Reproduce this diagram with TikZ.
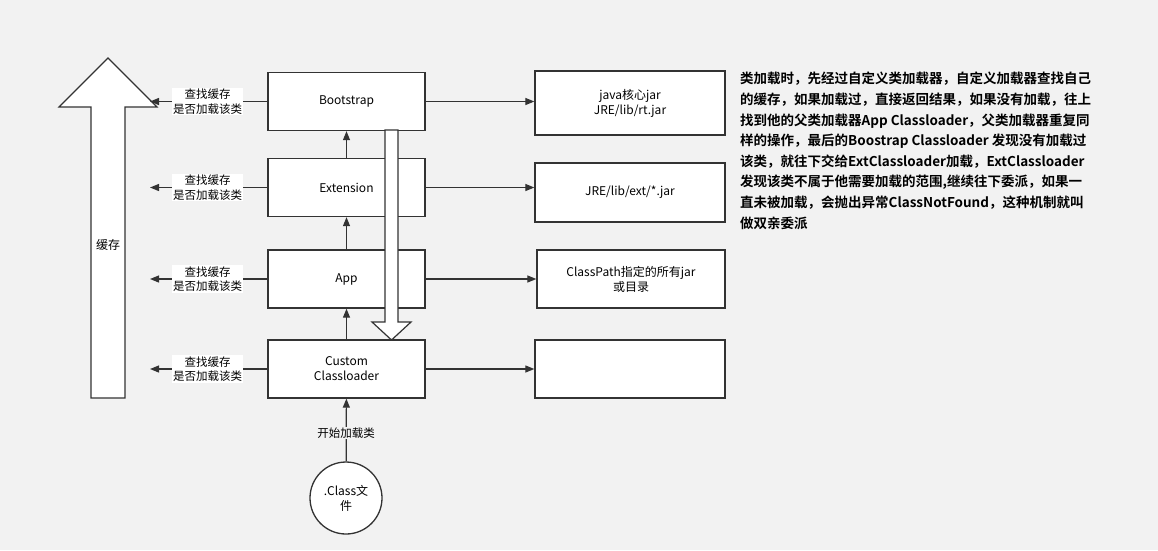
\documentclass[tikz,border=0pt]{standalone}
\usepackage{fontspec}
\setmainfont{Noto Sans CJK SC}
\newfontfamily\cjkb{Noto Sans CJK SC Bold}
\usetikzlibrary{arrows.meta,calc}
\definecolor{bg}{HTML}{F2F2F2}
\definecolor{ln}{HTML}{333333}
\begin{document}
\begin{tikzpicture}[x=1pt,y=-1pt,
 box/.style={draw=ln,line width=1.3pt,fill=white,minimum width=157pt,minimum height=58pt,inner sep=0pt,align=center,font=\fontsize{12}{15}\selectfont},
 rbox/.style={draw=ln,line width=1.3pt,fill=white,minimum width=190pt,minimum height=60pt,inner sep=0pt,align=center,font=\fontsize{12}{15}\selectfont},
 arr/.style={draw=ln,line width=1.2pt,-{Triangle[length=9pt,width=7pt]}},
 lab/.style={fill=white,inner sep=1pt,align=center,font=\fontsize{11.5}{14.5}\selectfont}]
\fill[bg] (0,0) rectangle (1158,550);
\useasboundingbox (0,0) rectangle (1158,550);
% big up arrow
\draw[ln,line width=1.2pt,fill=white] (91,398)--(91,107)--(59,107)--(108,58)--(157,107)--(125,107)--(125,398)--cycle;
\node[font=\fontsize{12}{15}\selectfont] (cache) at (108,245) {缓存};
% boxes
\node[box] (b) at (346.5,101.5) {Bootstrap};
\node[box] (e) at (346.5,187.5) {Extension};
\node[box] (a) at (346.5,279) {App};
\node[box] (c) at (346.5,369) {Custom\\Classloader};
\node[rbox,minimum height=64pt] (rb) at (630,103) {java核心jar\\JRE/lib/rt.jar};
\node[rbox,minimum height=59pt] (re) at (630,192.5) {JRE/lib/ext/*.jar};
\node[rbox,minimum width=188pt,minimum height=58pt] (ra) at (631,279) {ClassPath指定的所有jar\\或目录};
\node[rbox,minimum height=58pt] (rc) at (630,369) {};
% down arrow
\draw[ln,line width=1.2pt,fill=white] (385,130)--(385,322)--(372,322)--(391.5,340)--(411,322)--(398,322)--(398,130)--cycle;
% up arrows
\draw[arr] (c) -- (a);
\draw[arr] (a) -- (e);
\draw[arr] (e.north) -- (b.south);
% right arrows
\foreach \s/\t in {b/rb,e/re,a/ra,c/rc}{\draw[arr] (\s.east) -- (\s.east -| \t.west);}
% left arrows
\foreach \s in {b,e,a,c}{
 \coordinate (\s l) at (150,0 |- \s.west);
 \draw[arr] (\s.west) -- (\s l);
 \node[lab] at ($(\s.west)!0.51!(\s l)$) {查找缓存\\是否加载该类};}
% circle
\node[circle,draw=ln,line width=1.3pt,fill=white,minimum size=72pt,inner sep=0pt,align=center,font=\fontsize{12}{15}\selectfont] (cl) at (346,498) {.Class文\\件};
\draw[arr] (cl) -- (c);
\node[lab,fill=bg] (start) at (346,433) {开始加载类};
% text
\node[anchor=north west,align=left,inner sep=0pt,font=\cjkb\fontsize{13.5}{20.6}\selectfont] (txt) at (740,72) {类加载时，先经过自定义类加载器，自定义加载器查找自己\\的缓存，如果加载过，直接返回结果，如果没有加载，往上\\找到他的父类加载器App Classloader，父类加载器重复同\\样的操作，最后的Boostrap Classloader 发现没有加载过\\该类，就往下交给ExtClassloader加载，ExtClassloader\\发现该类不属于他需要加载的范围,继续往下委派，如果一\\直未被加载，会抛出异常ClassNotFound，这种机制就叫\\做双亲委派};
\end{tikzpicture}
\end{document}
